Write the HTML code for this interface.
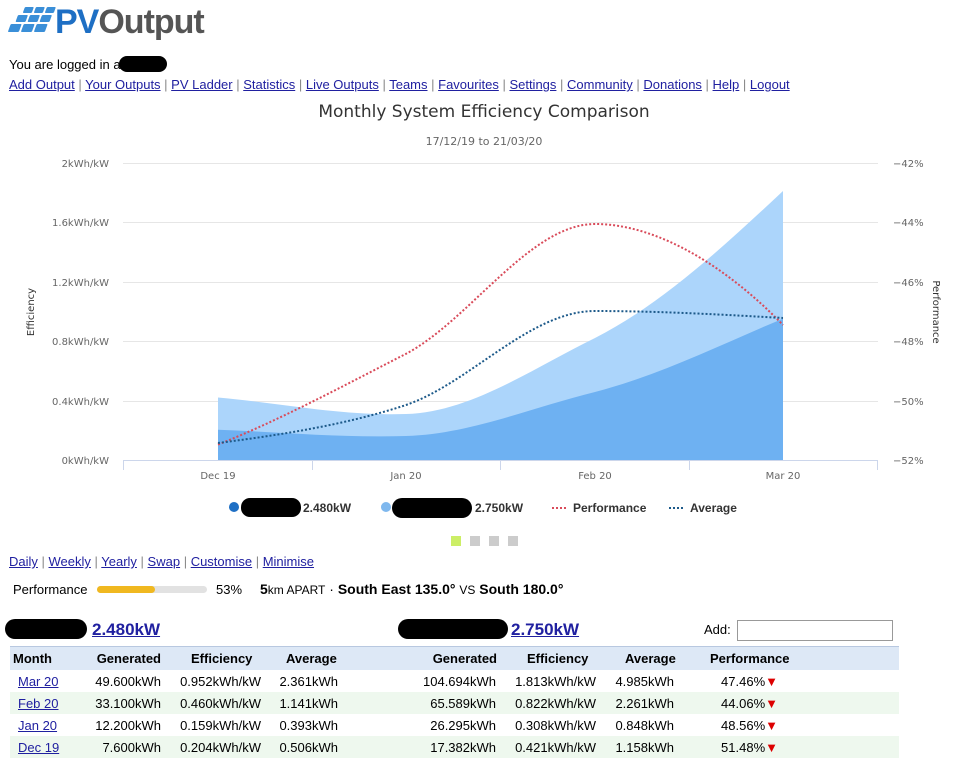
<!DOCTYPE html>
<html><head><meta charset="utf-8"><style>
body{margin:0;background:#fff;font-family:"Liberation Sans",Arial,sans-serif;font-size:13px;color:#000;width:958px;height:768px;overflow:hidden;position:relative}
a{color:#2020a0;text-decoration:underline}
.abs{position:absolute;white-space:nowrap}
.blob{display:inline-block;background:#000;border-radius:12px}
.row{position:absolute;left:10px;width:889px;height:22px}
.row span{position:absolute;top:4px;white-space:nowrap}
.r{text-align:right}
</style></head><body>
<svg class="abs" style="left:8px;top:4px" width="60" height="36" viewBox="0 0 60 36">
<g fill="#3a8fd8" transform="skewX(-20)">
<rect x="18" y="3" width="9" height="6" rx="1"/><rect x="29" y="3" width="9" height="6" rx="1"/><rect x="40" y="3" width="9" height="6" rx="1"/>
<rect x="14" y="11" width="10" height="7" rx="1"/><rect x="26" y="11" width="10" height="7" rx="1"/><rect x="38" y="11" width="10" height="7" rx="1"/>
<rect x="10" y="20" width="11" height="8" rx="1"/><rect x="23" y="20" width="11" height="8" rx="1"/><rect x="36" y="20" width="11" height="8" rx="1"/>
</g></svg>
<div class="abs" style="left:55px;top:3px;font-size:34px;font-weight:bold;letter-spacing:-1px"><span style="color:#1e6fc4">PV</span><span style="color:#555">Output</span></div>
<div class="abs" style="left:9px;top:56px">You are logged in as<span class="blob" style="width:48px;height:16px;vertical-align:-3px;margin-left:-8px"></span></div>
<div class="abs" style="left:9px;top:77px;color:#888"><a>Add Output</a> | <a>Your Outputs</a> | <a>PV Ladder</a> | <a>Statistics</a> | <a>Live Outputs</a> | <a>Teams</a> | <a>Favourites</a> | <a>Settings</a> | <a>Community</a> | <a>Donations</a> | <a>Help</a> | <a>Logout</a></div>

<svg class="abs" style="left:0;top:95px" width="958" height="460" viewBox="0 95 958 460" font-family="DejaVu Sans, sans-serif">
<text x="484" y="117" text-anchor="middle" font-size="17" fill="#333">Monthly System Efficiency Comparison</text>
<text x="484" y="145" text-anchor="middle" font-size="11" fill="#666">17/12/19 to 21/03/20</text>
<g stroke="#e6e6e6"><line x1="123" x2="878" y1="163.5" y2="163.5"/><line x1="123" x2="878" y1="222.5" y2="222.5"/><line x1="123" x2="878" y1="282.5" y2="282.5"/><line x1="123" x2="878" y1="341.5" y2="341.5"/><line x1="123" x2="878" y1="401.5" y2="401.5"/></g>
<line x1="123" x2="878" y1="460.5" y2="460.5" stroke="#ccd6eb"/>
<g stroke="#ccd6eb"><line x1="123.5" x2="123.5" y1="460" y2="470"/><line x1="312.5" x2="312.5" y1="460" y2="470"/><line x1="500.5" x2="500.5" y1="460" y2="470"/><line x1="689.5" x2="689.5" y1="460" y2="470"/><line x1="877.5" x2="877.5" y1="460" y2="470"/></g>
<path d="M218,397.5 C280,403 340,416 406,414 C470,412 530,370 595,338 C660,305 720,250 783,191 L783,460 L218,460Z" fill="#acd5fb"/>
<path d="M218,429.7 C280,432 340,438 406,436 C470,434 530,408 595,392 C660,375 720,345 783,318.6 L783,460 L218,460Z" fill="#6eb1f2"/>
<path d="M218,444.6 C280,420 345,385 406,353.8 C470,320 530,224 595,224 C660,224 730,270 783,325" fill="none" stroke="#d94b5a" stroke-width="2" stroke-dasharray="2,2"/>
<path d="M218,443 C280,435 345,425 406,405 C470,383 530,311 595,311 C660,311 730,315 783,318" fill="none" stroke="#1d5a8a" stroke-width="2" stroke-dasharray="2,2"/>
<g font-size="10" fill="#666" text-anchor="end"><text x="109" y="167">2kWh/kW</text><text x="109" y="226">1.6kWh/kW</text><text x="109" y="286">1.2kWh/kW</text><text x="109" y="345">0.8kWh/kW</text><text x="109" y="405">0.4kWh/kW</text><text x="109" y="464">0kWh/kW</text></g>
<g font-size="10" fill="#666"><text x="893" y="167">−42%</text><text x="893" y="226">−44%</text><text x="893" y="286">−46%</text><text x="893" y="345">−48%</text><text x="893" y="405">−50%</text><text x="893" y="464">−52%</text></g>
<g font-size="10" fill="#666" text-anchor="middle"><text x="218" y="479">Dec 19</text><text x="406" y="479">Jan 20</text><text x="595" y="479">Feb 20</text><text x="783" y="479">Mar 20</text></g>
<text transform="translate(34,312) rotate(-90)" font-size="10" fill="#333" text-anchor="middle">Efficiency</text>
<text transform="translate(933,312) rotate(90)" font-size="10" fill="#333" text-anchor="middle">Performance</text>
<g font-family="Liberation Sans, sans-serif" font-size="12" font-weight="bold" fill="#333">
<circle cx="234" cy="507" r="5" fill="#1e6fc4"/><rect x="241" y="498" width="60" height="19" rx="9" fill="#000"/><text x="303" y="512">2.480kW</text>
<circle cx="386" cy="507" r="5" fill="#7fb8ee"/><rect x="392" y="498" width="80" height="20" rx="10" fill="#000"/><text x="475" y="512">2.750kW</text>
<line x1="552" x2="568" y1="508" y2="508" stroke="#d94b5a" stroke-width="2" stroke-dasharray="2,2"/><text x="573" y="512">Performance</text>
<line x1="669" x2="685" y1="508" y2="508" stroke="#1d5a8a" stroke-width="2" stroke-dasharray="2,2"/><text x="690" y="512">Average</text>
</g>
<rect x="451" y="536" width="10" height="10" fill="#ccee66"/><rect x="470" y="536" width="10" height="10" fill="#ccc"/><rect x="489" y="536" width="10" height="10" fill="#ccc"/><rect x="508" y="536" width="10" height="10" fill="#ccc"/>
</svg>

<div class="abs" style="left:9px;top:554px;color:#888"><a>Daily</a> | <a>Weekly</a> | <a>Yearly</a> | <a>Swap</a> | <a>Customise</a> | <a>Minimise</a></div>
<div class="abs" style="left:13px;top:582px">Performance</div>
<div class="abs" style="left:97px;top:586px;width:110px;height:7px;background:#e2e2e2;border-radius:4px"><div style="width:58px;height:7px;background:#f0b820;border-radius:4px"></div></div>
<div class="abs" style="left:216px;top:582px">53%</div>
<div class="abs" style="left:260px;top:581px;font-size:14px"><b>5</b><span style="font-size:12px">km APART</span> · <b>South East 135.0°</b> <span style="font-size:12px">VS</span> <b>South 180.0°</b></div>
<span class="abs blob" style="left:5px;top:619px;width:82px;height:20px"></span>
<div class="abs" style="left:92px;top:620px;font-size:17px;font-weight:bold"><a>2.480kW</a></div>
<span class="abs blob" style="left:398px;top:619px;width:110px;height:20px"></span>
<div class="abs" style="left:511px;top:620px;font-size:17px;font-weight:bold"><a>2.750kW</a></div>
<div class="abs" style="left:704px;top:622px">Add:</div>
<div class="abs" style="left:737px;top:620px;width:154px;height:19px;border:1px solid #999"></div>

<div class="row" style="top:646px;height:24px;background:#dde8f6;border-top:1px solid #b8c8e0;font-weight:bold">
<span style="left:3px">Month</span><span class="r" style="right:738px">Generated</span><span style="left:181px">Efficiency</span><span style="left:276px">Average</span><span class="r" style="right:402px">Generated</span><span style="left:517px">Efficiency</span><span style="left:615px">Average</span><span style="left:700px">Performance</span></div>
<div class="row" style="top:670px;background:#fff"><span style="left:8px"><a>Mar 20</a></span><span class="r" style="right:738px">49.600kWh</span><span class="r" style="right:638px">0.952kWh/kW</span><span class="r" style="right:561px">2.361kWh</span><span class="r" style="right:403px">104.694kWh</span><span class="r" style="right:303px">1.813kWh/kW</span><span class="r" style="right:225px">4.985kWh</span><span class="r" style="right:121px">47.46%<span style="position:static;color:#d00">▼</span></span></div>
<div class="row" style="top:692px;background:#eef8ee"><span style="left:8px"><a>Feb 20</a></span><span class="r" style="right:738px">33.100kWh</span><span class="r" style="right:638px">0.460kWh/kW</span><span class="r" style="right:561px">1.141kWh</span><span class="r" style="right:403px">65.589kWh</span><span class="r" style="right:303px">0.822kWh/kW</span><span class="r" style="right:225px">2.261kWh</span><span class="r" style="right:121px">44.06%<span style="position:static;color:#d00">▼</span></span></div>
<div class="row" style="top:714px;background:#fff"><span style="left:8px"><a>Jan 20</a></span><span class="r" style="right:738px">12.200kWh</span><span class="r" style="right:638px">0.159kWh/kW</span><span class="r" style="right:561px">0.393kWh</span><span class="r" style="right:403px">26.295kWh</span><span class="r" style="right:303px">0.308kWh/kW</span><span class="r" style="right:225px">0.848kWh</span><span class="r" style="right:121px">48.56%<span style="position:static;color:#d00">▼</span></span></div>
<div class="row" style="top:736px;background:#eef8ee"><span style="left:8px"><a>Dec 19</a></span><span class="r" style="right:738px">7.600kWh</span><span class="r" style="right:638px">0.204kWh/kW</span><span class="r" style="right:561px">0.506kWh</span><span class="r" style="right:403px">17.382kWh</span><span class="r" style="right:303px">0.421kWh/kW</span><span class="r" style="right:225px">1.158kWh</span><span class="r" style="right:121px">51.48%<span style="position:static;color:#d00">▼</span></span></div>
</body></html>
